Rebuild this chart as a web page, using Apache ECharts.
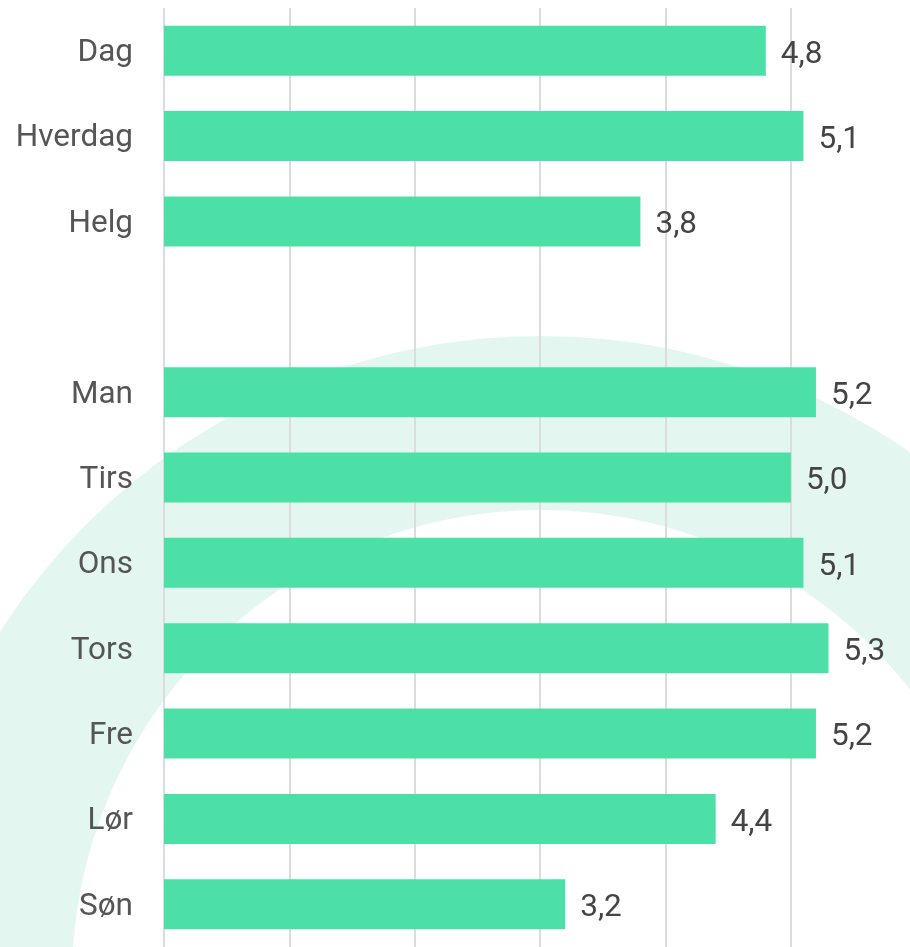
<!DOCTYPE html>
<html>
<head>
<meta charset="utf-8">
<script src="https://cdn.jsdelivr.net/npm/echarts@6/dist/echarts.min.js"></script>
<style>
html,body{margin:0;padding:0;background:#fff;}
#chart{width:910px;height:947px;}
</style>
</head>
<body>
<div id="chart"></div>
<script>
var categories = ['Dag', 'Hverdag', 'Helg', '', 'Man', 'Tirs', 'Ons', 'Tors', 'Fre', 'Lør', 'Søn'];
var values = [4.8, 5.1, 3.8, null, 5.2, 5.0, 5.1, 5.3, 5.2, 4.4, 3.2];

var chart = echarts.init(document.getElementById('chart'));
chart.setOption({
  animation: false,
  backgroundColor: '#ffffff',
  textStyle: { fontFamily: 'Roboto' },
  graphic: [{
    type: 'ring',
    z: -10,
    silent: true,
    shape: { cx: 541, cy: 979, r: 643, r0: 469 },
    style: { fill: '#e3f7f0' }
  }],
  grid: { left: 164, right: 0, top: 8, bottom: -4, containLabel: false },
  xAxis: {
    type: 'value',
    min: 0,
    max: 5.95,
    interval: 1,
    axisLabel: { show: false },
    axisLine: { show: false },
    axisTick: { show: false },
    splitLine: { show: true, showMaxLine: false, lineStyle: { color: '#dcdcdc', width: 2 } }
  },
  yAxis: {
    type: 'category',
    inverse: true,
    data: categories,
    axisLine: { show: false },
    axisTick: { show: false },
    axisLabel: {
      margin: 31,
      formatter: function (v) { return v ? '{a|' + v + '}' : ''; },
      rich: { a: { fontSize: 31.5, color: '#555555', fontFamily: 'Roboto', padding: [5, 0, 0, 0] } }
    }
  },
  series: [{
    type: 'bar',
    data: values,
    barWidth: 50,
    itemStyle: { color: '#4ce0a8' },
    label: {
      show: true,
      position: 'right',
      distance: 15,
      offset: [0, 4],
      fontSize: 31.5,
      color: '#444444',
      fontFamily: 'Roboto',
      formatter: function (p) { return p.value == null ? '' : p.value.toFixed(1).replace('.', ','); }
    }
  }]
});
</script>
</body>
</html>
